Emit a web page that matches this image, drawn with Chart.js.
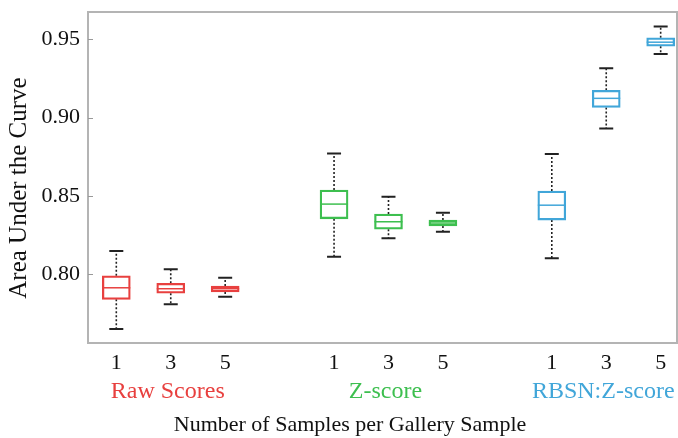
<!DOCTYPE html>
<html>
<head>
<meta charset="utf-8">
<script src="https://cdn.jsdelivr.net/npm/chart.js@4.4.1/dist/chart.umd.min.js"></script>
<style>
  html, body { margin: 0; padding: 0; background: #fff; }
  #wrap { width: 678px; height: 438px; }
</style>
</head>
<body>
<div id="wrap"><canvas id="grafico" width="678" height="438"></canvas></div>
<script>
// Grupos e rótulos do eixo x
const grupos = ["Raw Scores", "Z-score", "RBSN:Z-score"];
const amostras = ["1", "3", "5"];
const coresGrupo = ["#e8403f", "#3dbf4f", "#41a6d9"];
const tituloX = "Number of Samples per Gallery Sample";
const tituloY = "Area Under the Curve";

// Estatísticas de cada caixa (ordem: Raw 1,3,5 | Z 1,3,5 | RBSN 1,3,5)
const minimos  = [0.7649, 0.7806, 0.7855, 0.8111, 0.8228, 0.8270, 0.8100, 0.8931, 0.9407];
const q1s      = [0.7838, 0.7877, 0.7885, 0.8353, 0.8286, 0.8307, 0.8345, 0.9065, 0.9456];
const medianas = [0.7912, 0.7906, 0.7906, 0.8447, 0.8334, 0.8326, 0.8440, 0.9123, 0.9482];
const q3s      = [0.7989, 0.7941, 0.7923, 0.8537, 0.8383, 0.8345, 0.8530, 0.9175, 0.9510];
const maximos  = [0.8147, 0.8030, 0.7976, 0.8771, 0.8494, 0.8392, 0.8768, 0.9315, 0.9583];

const yTicks = [0.80, 0.85, 0.90, 0.95];

// posição de cada caixa: 3 por grupo, com um espaço entre grupos
const posicoes = [];
const rotulos = [];
const cores = [];
grupos.forEach((g, gi) => {
  amostras.forEach((a, ai) => {
    posicoes.push(gi * 4 + ai);
    rotulos.push(a);
    cores.push(coresGrupo[gi]);
  });
});

const fonte = "'Liberation Serif', 'DejaVu Serif', serif";

// Bigodes, medianas, moldura, títulos e rótulos dos grupos
const caixaPlugin = {
  id: "caixaPlugin",
  beforeDatasetsDraw(chart) {
    const { ctx, scales: { x, y } } = chart;
    ctx.save();
    ctx.strokeStyle = "#222";
    posicoes.forEach((p, i) => {
      const px = x.getPixelForValue(p);
      ctx.lineWidth = 1.6;
      ctx.setLineDash([2, 2]);
      ctx.beginPath();
      ctx.moveTo(px, y.getPixelForValue(q3s[i]));
      ctx.lineTo(px, y.getPixelForValue(maximos[i]));
      ctx.moveTo(px, y.getPixelForValue(q1s[i]));
      ctx.lineTo(px, y.getPixelForValue(minimos[i]));
      ctx.stroke();
      ctx.setLineDash([]);
      ctx.lineWidth = 2;
      ctx.beginPath();
      [minimos[i], maximos[i]].forEach(v => {
        const py = y.getPixelForValue(v);
        ctx.moveTo(px - 7, py);
        ctx.lineTo(px + 7, py);
      });
      ctx.stroke();
    });
    ctx.restore();
  },
  afterDatasetsDraw(chart) {
    const { ctx, chartArea: a, scales: { x, y } } = chart;
    ctx.save();
    ctx.lineWidth = 1.5;
    posicoes.forEach((p, i) => {
      const px = x.getPixelForValue(p);
      const py = y.getPixelForValue(medianas[i]);
      ctx.strokeStyle = cores[i];
      ctx.beginPath();
      ctx.moveTo(px - 14, py);
      ctx.lineTo(px + 14, py);
      ctx.stroke();
    });
    // moldura cinza
    ctx.strokeStyle = "#b4b4b4";
    ctx.lineWidth = 2;
    ctx.strokeRect(a.left, a.top, a.right - a.left, a.bottom - a.top);
    // marcas internas do eixo y
    ctx.lineWidth = 1;
    ctx.strokeStyle = "#999";
    ctx.beginPath();
    yTicks.forEach(v => {
      const py = Math.round(y.getPixelForValue(v)) + 0.5;
      ctx.moveTo(a.left, py);
      ctx.lineTo(a.left + 5, py);
    });
    ctx.stroke();
    // nomes dos grupos
    ctx.font = "24px " + fonte;
    ctx.textAlign = "center";
    ctx.textBaseline = "middle";
    grupos.forEach((g, gi) => {
      ctx.fillStyle = coresGrupo[gi];
      ctx.fillText(g, x.getPixelForValue(gi * 4 + 1) - 3, 392);
    });
    // títulos dos eixos
    ctx.fillStyle = "#111";
    ctx.font = "22px " + fonte;
    ctx.fillText(tituloX, 350, 425);
    ctx.translate(19, 188);
    ctx.rotate(-Math.PI / 2);
    ctx.font = "25px " + fonte;
    ctx.fillText(tituloY, 0, 0);
    ctx.restore();
  }
};

const ctx = document.getElementById("grafico").getContext("2d");
const grafico = new Chart(ctx, {
  type: "bar",
  data: {
    datasets: [{
      data: posicoes.map((p, i) => ({ x: p, y: [q1s[i], q3s[i]] })),
      backgroundColor: "rgba(255,255,255,0)",
      borderColor: cores,
      borderWidth: 1.6,
      borderSkipped: false,
      barThickness: 28,
    }],
  },
  options: {
    responsive: false,
    animation: false,
    layout: { padding: { top: 12, right: 1, left: 0, bottom: 0 } },
    plugins: { legend: { display: false }, tooltip: { enabled: false } },
    scales: {
      x: {
        type: "linear",
        offset: false,
        min: -0.52,
        max: 10.3,
        grid: { display: false, drawTicks: false, offset: false },
        border: { display: false },
        afterBuildTicks: (s) => { s.ticks = posicoes.map(p => ({ value: p })); },
        afterFit: (s) => { s.height = 95; s.paddingLeft = 0; s.paddingRight = 0; },
        ticks: {
          autoSkip: false,
          maxRotation: 0,
          padding: 7,
          color: "#111",
          font: { family: fonte, size: 22 },
          callback: (v, i) => rotulos[i],
        },
      },
      y: {
        min: 0.7559,
        max: 0.9675,
        grid: { display: false, drawTicks: false },
        border: { display: false },
        afterBuildTicks: (s) => { s.ticks = yTicks.map(v => ({ value: v })); },
        afterFit: (s) => { s.width = 88; s.paddingTop = 0; s.paddingBottom = 0; },
        ticks: {
          padding: 8,
          color: "#111",
          font: { family: fonte, size: 22 },
          callback: (v) => v.toFixed(2),
        },
      },
    },
  },
  plugins: [caixaPlugin],
});
</script>
</body>
</html>
